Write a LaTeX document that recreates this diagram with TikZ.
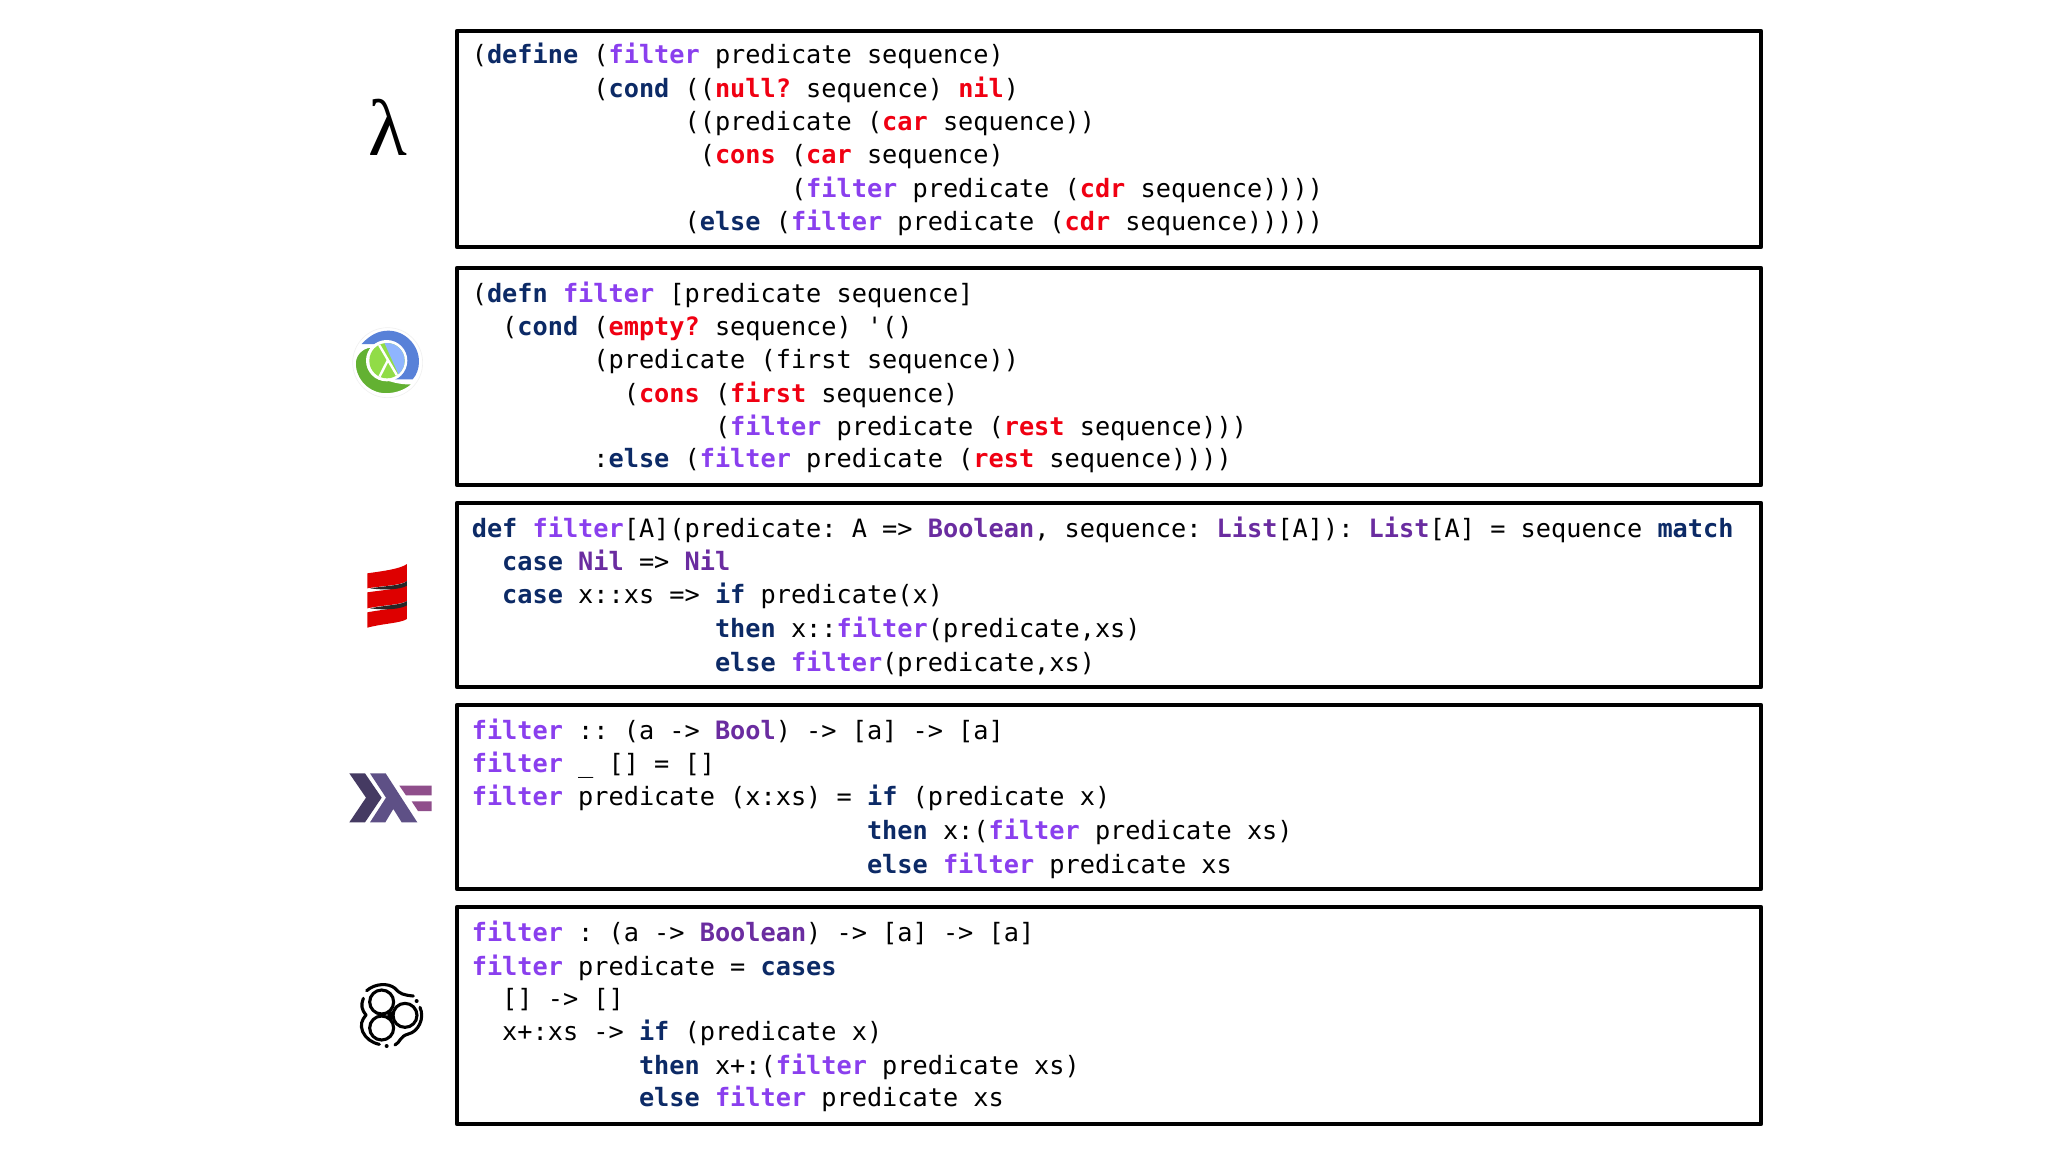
\documentclass[tikz,border=0pt]{standalone}
\usepackage{fontspec}
\setmonofont{DejaVu Sans Mono}
\newfontfamily\lamfont{Liberation Serif}
\definecolor{kw}{HTML}{0C2A66}
\definecolor{fnc}{HTML}{8A3FEE}
\definecolor{rdc}{HTML}{F00012}
\definecolor{tyc}{HTML}{6A2CA0}
\definecolor{cljblue}{HTML}{5881D8}
\definecolor{cljlblue}{HTML}{8FB5FE}
\definecolor{cljgreen}{HTML}{63B132}
\definecolor{cljlgreen}{HTML}{91DC47}
\definecolor{hsa}{HTML}{453A62}
\definecolor{hsb}{HTML}{5E5086}
\definecolor{hsc}{HTML}{8F4E8B}
\definecolor{scred}{HTML}{DE0000}
\newcommand\cK[1]{{\bfseries\color{kw}#1}}
\newcommand\cF[1]{{\bfseries\color{fnc}#1}}
\newcommand\cR[1]{{\bfseries\color{rdc}#1}}
\newcommand\cT[1]{{\bfseries\color{tyc}#1}}
\tikzset{
  codebox/.style={draw=black,line width=4.5pt,line join=round,inner sep=0pt,outer sep=0pt,anchor=north west,fill=white},
  codeline/.style={anchor=base west,inner sep=0pt,outer sep=0pt,text=black,font=\ttfamily\fontsize{25.25}{30}\selectfont},
  glyph/.style={inner sep=0pt,outer sep=0pt},
  unistroke/.style={draw=black,line width=3.1pt,line cap=round,line join=round}
}
\newcommand\cl[4]{\node[codeline] (#1) at ({471.8+15.2*#2},#3) {#4};}
\begin{document}
\begin{tikzpicture}[x=1pt,y=-1pt]
\useasboundingbox[fill=white] (0,0) rectangle (2048,1152);
% boxes
\node[codebox,minimum width=1304pt,minimum height=216pt] (box1) at (457,31) {};
\node[codebox,minimum width=1304pt,minimum height=217pt] (box2) at (457,268) {};
\node[codebox,minimum width=1304pt,minimum height=184pt] (box3) at (457,503) {};
\node[codebox,minimum width=1304pt,minimum height=184pt] (box4) at (457,705) {};
\node[codebox,minimum width=1304pt,minimum height=217pt] (box5) at (457,907) {};
% box 1
\cl{a1}{0}{63.6}{(\cK{define} (\cF{filter} predicate sequence)}
\cl{a2}{8}{97.2}{(\cK{cond} ((\cR{null?} sequence) \cR{nil})}
\cl{a3}{14}{130.2}{((predicate (\cR{car} sequence))}
\cl{a4}{15}{163.6}{(\cR{cons} (\cR{car} sequence)}
\cl{a5}{21}{197}{(\cF{filter} predicate (\cR{cdr} sequence))))}
\cl{a6}{14}{230}{(\cK{else} (\cF{filter} predicate (\cR{cdr} sequence)))))}
% box 2
\cl{b1}{0}{302}{(\cK{defn} \cF{filter} [predicate sequence]}
\cl{b2}{2}{335.3}{(\cK{cond} (\cR{empty?} sequence) '()}
\cl{b3}{8}{368}{(predicate (first sequence))}
\cl{b4}{10}{402}{(\cR{cons} (\cR{first} sequence)}
\cl{b5}{16}{435.5}{(\cF{filter} predicate (\cR{rest} sequence)))}
\cl{b6}{8}{467.8}{:\cK{else} (\cF{filter} predicate (\cR{rest} sequence))))}
% box 3
\cl{c1}{0}{537}{\cK{def} \cF{filter}[A](predicate: A => \cT{Boolean}, sequence: \cT{List}[A]): \cT{List}[A] = sequence \cK{match}}
\cl{c2}{2}{570.6}{\cK{case} \cT{Nil} => \cT{Nil}}
\cl{c3}{2}{603.4}{\cK{case} x::xs => \cK{if} predicate(x)}
\cl{c4}{16}{637.5}{\cK{then} x::\cF{filter}(predicate,xs)}
\cl{c5}{16}{671}{\cK{else} \cF{filter}(predicate,xs)}
% box 4
\cl{d1}{0}{739.2}{\cF{filter} :: (a -> \cT{Bool}) -> [a] -> [a]}
\cl{d2}{0}{772.4}{\cF{filter} \_ [] = []}
\cl{d3}{0}{805.4}{\cF{filter} predicate (x:xs) = \cK{if} (predicate x)}
\cl{d4}{26}{839.5}{\cK{then} x:(\cF{filter} predicate xs)}
\cl{d5}{26}{873}{\cK{else} \cF{filter} predicate xs}
% box 5
\cl{e1}{0}{941.2}{\cF{filter} : (a -> \cT{Boolean}) -> [a] -> [a]}
\cl{e2}{0}{975}{\cF{filter} predicate = \cK{cases}}
\cl{e3}{2}{1007.2}{[] -> []}
\cl{e4}{2}{1040.3}{x+:xs -> \cK{if} (predicate x)}
\cl{e5}{11}{1074.5}{\cK{then} x+:(\cF{filter} predicate xs)}
\cl{e6}{11}{1106.8}{\cK{else} \cF{filter} predicate xs}
% lambda
\node[glyph,font=\lamfont\fontsize{80}{90}\selectfont] (lam) at (388,127) {λ};
% clojure
\begin{scope}[shift={(345,320)},x=0.3333pt,y=-0.3333pt]
\fill[white,draw=black!6,line width=0.6pt] (128,128) circle (105);
\fill[cljblue] (50,72) .. controls (75,45) and (100,32) .. (130,32) .. controls (180,32) and (222,75) .. (222,125) .. controls (222,145) and (215,165) .. (203,178) -- (150,178) -- (110,72) -- cycle;
\fill[cljgreen,draw=white,line width=1.6pt] (80,80) .. controls (45,83) and (30,110) .. (30,130) .. controls (30,180) and (72,222) .. (122,222) .. controls (155,222) and (185,210) .. (205,190) .. controls (185,192) and (160,190) .. (130,180) -- (70,110) -- cycle;
\fill[white] (125,122) circle (62);
\begin{scope}
\clip (126,122) circle (53);
\fill[cljlgreen] (60,60) rectangle (190,185);
\fill[cljlblue] (112,55) -- (195,55) -- (195,190) -- (168,180) -- cycle;
\draw[white,line width=2.4pt] (95,62) -- (170,190);
\draw[white,line width=2.4pt] (128,122) -- (96,185);
\end{scope}
\end{scope}
% scala
\begin{scope}[shift={(360,555)},x=0.3333pt,y=-0.3333pt]
\fill[scred] (22,55) .. controls (70,48) and (120,42) .. (141,27) -- (141,78) .. controls (120,92) and (70,92) .. (22,100) -- cycle;
\fill[scred] (22,112) .. controls (70,105) and (120,102) .. (141,88) -- (141,138) .. controls (120,150) and (70,150) .. (22,160) -- cycle;
\fill[scred] (22,172) .. controls (70,163) and (120,160) .. (141,147) -- (141,192) .. controls (120,205) and (70,205) .. (22,218) -- cycle;
\fill[black!85] (30,100) .. controls (80,92) and (125,92) .. (141,78) -- (141,92) .. controls (120,104) and (75,106) .. (30,100) -- cycle;
\fill[black!85] (30,160) .. controls (80,150) and (125,150) .. (141,138) -- (141,151) .. controls (120,163) and (75,166) .. (30,160) -- cycle;
\end{scope}
% haskell
\begin{scope}[shift={(330,760)},x=0.3333pt,y=-0.3333pt]
\fill[hsa] (58,40) -- (105,40) -- (155,113) -- (105,187) -- (58,187) -- (108,113) -- cycle;
\fill[hsb] (120,40) -- (167,40) -- (262,187) -- (215,187) -- (190,147) -- (166,187) -- (120,187) -- (168,113) -- cycle;
\fill[hsc] (208,77) -- (305,77) -- (305,106) -- (228,106) -- cycle;
\fill[hsc] (245,124) -- (305,124) -- (305,153) -- (264,153) -- cycle;
\end{scope}
% three circles
\begin{scope}[shift={(350,970)},x=0.3333pt,y=-0.3333pt]
\draw[unistroke] (95,96) circle (36);
\draw[unistroke] (165,136) circle (36);
\draw[unistroke] (95,174) circle (36);
\fill[black] (112,128) -- (133,122) -- (133,150) -- (112,142) -- cycle;
\draw[unistroke] (50,62) .. controls (75,40) and (115,38) .. (135,55) .. controls (150,72) and (160,75) .. (190,78);
\draw[unistroke] (40,85) .. controls (32,105) and (35,120) .. (48,135) .. controls (35,150) and (30,165) .. (38,185) .. controls (47,205) and (65,218) .. (88,223);
\draw[unistroke] (135,225) .. controls (150,218) and (150,198) .. (175,192) .. controls (205,185) and (225,145) .. (210,112);
\fill[black] (110,228) circle (6);
\fill[black] (200,93) circle (6);
\end{scope}
\end{tikzpicture}
\end{document}
